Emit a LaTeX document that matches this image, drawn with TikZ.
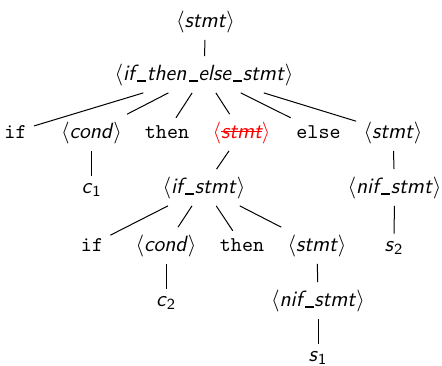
\documentclass[tikz,border=0pt]{standalone}
\newcommand\us{\kern0.12em\rule[-0.1em]{0.4em}{0.1em}\kern0.03em}
\newcommand\nt[1]{$\langle$\textit{#1}$\rangle$}
\newcommand\mystrike[1]{\setbox0\hbox{#1}\rlap{\rule[0.27em]{\wd0}{0.06em}}\box0}
\tikzset{
  tn/.style={font=\fontsize{11}{13}\selectfont\sffamily, anchor=base, inner sep=3.5pt},
  tk/.style={font=\fontsize{10.5}{12}\selectfont\ttfamily, anchor=base, inner sep=3.5pt},
  edge/.style={draw=black, line width=0.5pt},
}
\begin{document}
\begin{tikzpicture}[x=0.5pt,y=-0.5pt]
\useasboundingbox (0,0) rectangle (442,365);
% level 1-2
\node[tn] (s0) at (205.5,27) {\nt{stmt}};
\node[tn] (ite) at (204,80) {\nt{if\us then\us else\us stmt}};
% level 3
\node[tk] (if1) at (15.5,138) {if};
\node[tn] (cond1) at (91.5,138) {\nt{cond}};
\node[tk] (then1) at (167,138) {then};
\node[tn, text=red] (red) at (241.5,138) {$\langle$\textit{\mystrike{stmt}}$\rangle$};
\node[tk] (else1) at (318.5,138) {else};
\node[tn] (stmtR) at (393,138) {\nt{stmt}};
% level 4
\node[tn] (c1) at (91.5,193) {\textit{c}\textsubscript{\upshape 1}};
\node[tn] (ifs) at (204,193) {\nt{if\us stmt}};
\node[tn] (nifR) at (394.5,193) {\nt{nif\us stmt}};
% level 5
\node[tk] (if2) at (92,251) {if};
\node[tn] (cond2) at (166,251) {\nt{cond}};
\node[tk] (then2) at (242,251) {then};
\node[tn] (stmt2) at (317,251) {\nt{stmt}};
\node[tn] (s2) at (394,251) {\textit{s}\textsubscript{\upshape 2}};
% level 6
\node[tn] (c2) at (166,306) {\textit{c}\textsubscript{\upshape 2}};
\node[tn] (nif2) at (318,306) {\nt{nif\us stmt}};
% level 7
\node[tn] (s1) at (318,361) {\textit{s}\textsubscript{\upshape 1}};
% edges
\draw[edge] (s0) -- (ite);
\foreach \c in {if1,cond1,then1,red,else1,stmtR} \draw[edge] (ite) -- (\c);
\draw[edge] (cond1) -- (c1);
\draw[edge] (red) -- (ifs);
\draw[edge] (stmtR) -- (nifR);
\draw[edge] (nifR) -- (s2);
\foreach \c in {if2,cond2,then2,stmt2} \draw[edge] (ifs) -- (\c);
\draw[edge] (cond2) -- (c2);
\draw[edge] (stmt2) -- (nif2);
\draw[edge] (nif2) -- (s1);
\end{tikzpicture}
\end{document}
